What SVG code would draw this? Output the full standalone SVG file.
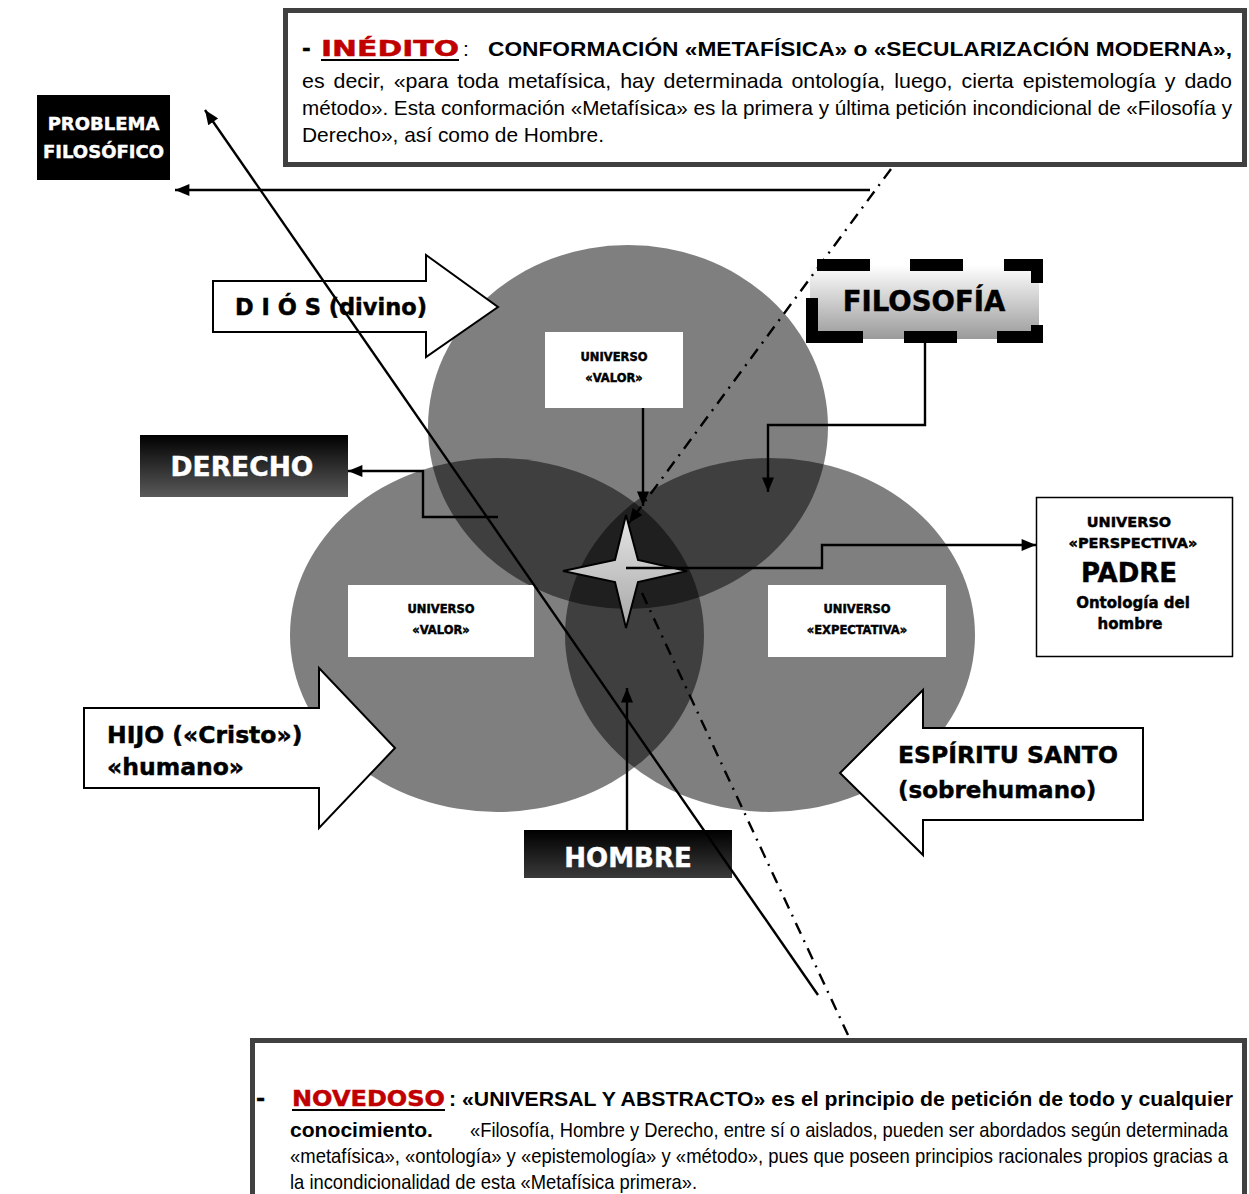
<svg xmlns="http://www.w3.org/2000/svg" width="1249" height="1194" viewBox="0 0 1249 1194">
  <defs>
    <style>
      .narrow { font-family: "Liberation Sans", Arial, sans-serif; fill: #000; font-size: 21px; }
      .heavy { font-family: "DejaVu Sans", "Liberation Sans", Arial, sans-serif; font-weight: bold; fill: #000; stroke: #000; stroke-width: 0.45; }
      .red { fill: #c00000; stroke: #c00000; }
      .wt { fill: #ffffff; stroke: #ffffff; }
      .conn { fill: none; stroke: #000; stroke-width: 2.4; }
      .dashdot { fill: none; stroke: #000; stroke-width: 2.4; stroke-dasharray: 12 7 2 7; }
      .panel { fill: #ffffff; stroke: #404040; stroke-width: 5; }
      .block { fill: #ffffff; stroke: #000; stroke-width: 2; }
    </style>
    <marker id="arrow" viewBox="0 0 12 10" refX="12" refY="5" markerWidth="15" markerHeight="12" markerUnits="userSpaceOnUse" orient="auto">
      <path d="M0,0 L12,5 L0,10 Z" fill="#000"/>
    </marker>
    <linearGradient id="darkFade" x1="0" y1="0" x2="0" y2="1">
      <stop offset="0" stop-color="#000000"/>
      <stop offset="1" stop-color="#5a5a5a"/>
    </linearGradient>
    <linearGradient id="darkFade2" x1="0" y1="0" x2="0" y2="1">
      <stop offset="0" stop-color="#000000"/>
      <stop offset="1" stop-color="#3a3a3a"/>
    </linearGradient>
    <linearGradient id="silver" x1="0" y1="0" x2="0" y2="1">
      <stop offset="0" stop-color="#ffffff"/>
      <stop offset="1" stop-color="#9a9a9a"/>
    </linearGradient>
    <linearGradient id="starFill" x1="0" y1="0" x2="0" y2="1">
      <stop offset="0" stop-color="#e6e6e6"/>
      <stop offset="1" stop-color="#a6a6a6"/>
    </linearGradient>
  </defs>

  <!-- overlapping universes -->
  <g id="universes" fill="#000" fill-opacity="0.5">
    <ellipse cx="628" cy="427" rx="200" ry="182"/>
    <ellipse cx="497" cy="635" rx="207" ry="177"/>
    <ellipse cx="770" cy="635" rx="205" ry="177"/>
  </g>

  <!-- top statement: justified lines -->
  <g id="inedito">
    <rect class="panel" x="285.5" y="10.5" width="959" height="154"/>
    <text class="heavy" x="302" y="56" font-size="21">-</text>
    <text class="heavy red" x="321" y="56" font-size="21" textLength="138" lengthAdjust="spacingAndGlyphs">INÉDITO</text>
    <rect x="321" y="59" width="138" height="2" fill="#000"/>
    <text class="narrow" x="463" y="56">:</text>
    <text class="narrow" x="488" y="56" font-size="21.5" font-weight="bold" textLength="744" lengthAdjust="spacingAndGlyphs">CONFORMACIÓN  «METAFÍSICA» o «SECULARIZACIÓN MODERNA»,</text>
    <text class="narrow" x="302" y="88" word-spacing="3" textLength="930" lengthAdjust="spacingAndGlyphs">es decir, «para toda metafísica,  hay determinada ontología, luego, cierta epistemología y dado</text>
    <text class="narrow" x="302" y="115" font-size="20.5" textLength="930" lengthAdjust="spacingAndGlyphs">método». Esta conformación «Metafísica» es la primera y última petición incondicional de «Filosofía y</text>
    <text class="narrow" x="302" y="142" font-size="20.5" textLength="302" lengthAdjust="spacingAndGlyphs">Derecho», así como de Hombre.</text>
  </g>

  <g id="problema">
    <rect x="37" y="95" width="133" height="85" fill="#000"/>
    <text class="heavy wt" x="103.5" y="130" font-size="18" text-anchor="middle">PROBLEMA</text>
    <text class="heavy wt" x="103.5" y="158" font-size="18" text-anchor="middle">FILOSÓFICO</text>
  </g>

  <g id="dios">
    <path class="block" d="M213,281 H426 V255 L498,307 L426,357 V332 H213 Z"/>
    <text class="heavy" x="235" y="315" font-size="22.5">D I Ó S (divino)</text>
  </g>

  <g id="filosofia">
    <rect x="810" y="265" width="229" height="74" fill="url(#silver)"/>
    <g fill="#000">
      <rect x="817" y="259" width="53" height="12"/>
      <rect x="910" y="259" width="53" height="12"/>
      <rect x="1004" y="259" width="39" height="12"/>
      <rect x="1031" y="259" width="12" height="24"/>
      <rect x="1031" y="325" width="12" height="18"/>
      <rect x="997" y="331" width="46" height="12"/>
      <rect x="904" y="331" width="53" height="12"/>
      <rect x="806" y="331" width="57" height="12"/>
      <rect x="806" y="298" width="12" height="45"/>
    </g>
    <text class="heavy" x="924" y="311" font-size="27.5" text-anchor="middle">FILOSOFÍA</text>
  </g>

  <g id="valor-top">
    <rect x="545" y="332" width="138" height="76" fill="#fff"/>
    <text class="heavy" x="614" y="361" font-size="11.5" text-anchor="middle">UNIVERSO</text>
    <text class="heavy" x="614" y="382" font-size="11.5" text-anchor="middle">«VALOR»</text>
  </g>

  <g id="derecho">
    <rect x="140" y="435" width="208" height="62" fill="url(#darkFade)"/>
    <text class="heavy wt" x="242" y="476" font-size="26.5" text-anchor="middle">DERECHO</text>
  </g>

  <g id="valor-left">
    <rect x="348" y="585" width="186" height="72" fill="#fff"/>
    <text class="heavy" x="441" y="613" font-size="11.5" text-anchor="middle">UNIVERSO</text>
    <text class="heavy" x="441" y="634" font-size="11.5" text-anchor="middle">«VALOR»</text>
  </g>

  <g id="expectativa">
    <rect x="768" y="585" width="178" height="72" fill="#fff"/>
    <text class="heavy" x="857" y="613" font-size="11.5" text-anchor="middle">UNIVERSO</text>
    <text class="heavy" x="857" y="634" font-size="11.5" text-anchor="middle">«EXPECTATIVA»</text>
  </g>

  <g id="padre">
    <rect x="1036.5" y="497.5" width="196" height="159" fill="#fff" stroke="#000" stroke-width="1.5"/>
    <text class="heavy" x="1129" y="527" font-size="14.5" text-anchor="middle">UNIVERSO</text>
    <text class="heavy" x="1133" y="548" font-size="14.5" text-anchor="middle">«PERSPECTIVA»</text>
    <text class="heavy" x="1129" y="582" font-size="26" text-anchor="middle">PADRE</text>
    <text class="heavy" x="1133" y="608" font-size="15" text-anchor="middle">Ontología del</text>
    <text class="heavy" x="1130" y="629" font-size="15" text-anchor="middle">hombre</text>
  </g>

  <g id="hijo">
    <path class="block" d="M84,708 H319 V668 L395,748 L319,828 V788 H84 Z"/>
    <text class="heavy" x="107" y="743" font-size="23.5">HIJO («Cristo»)</text>
    <text class="heavy" x="107" y="775" font-size="23.5">«humano»</text>
  </g>

  <g id="espiritu">
    <path class="block" d="M1143,728 H923 V690 L840,773 L923,855 V820 H1143 Z"/>
    <text class="heavy" x="898" y="763" font-size="23.5">ESPÍRITU SANTO</text>
    <text class="heavy" x="898" y="798" font-size="23">(sobrehumano)</text>
  </g>

  <g id="hombre">
    <rect x="524" y="830" width="208" height="48" fill="url(#darkFade2)"/>
    <text class="heavy wt" x="628" y="867" font-size="26" text-anchor="middle">HOMBRE</text>
  </g>

  <!-- connectors -->
  <g id="connectors">
    <line class="conn" x1="870" y1="190" x2="175" y2="190" marker-end="url(#arrow)"/>
    <line class="conn" x1="818" y1="995" x2="205" y2="110" marker-end="url(#arrow)"/>
    <path class="conn" d="M498,517 H423 V471 H348" marker-end="url(#arrow)"/>
    <line class="conn" x1="643" y1="408" x2="643" y2="506" marker-end="url(#arrow)"/>
    <line class="dashdot" x1="891" y1="169" x2="629" y2="523" marker-end="url(#arrow)"/>
    <path class="conn" d="M925,343 V425 H768 V492" marker-end="url(#arrow)"/>
    <line class="dashdot" x1="642" y1="593" x2="848" y2="1035"/>
    <line class="conn" x1="627" y1="830" x2="627" y2="688" marker-end="url(#arrow)"/>
  </g>

  <g id="star">
    <path d="M626,515 L638,560 L687,571 L638,582 L626,628 L615,582 L563,571 L615,560 Z" fill="url(#starFill)" stroke="#000" stroke-width="2"/>
  </g>
  <path class="conn" d="M626,568 H822 V545 H1036" marker-end="url(#arrow)"/>

  <!-- bottom statement: justified lines -->
  <g id="novedoso">
    <rect class="panel" x="252.5" y="1040.5" width="992" height="180"/>
    <text class="heavy" x="256" y="1106" font-size="22">-</text>
    <text class="heavy red" x="292" y="1106" font-size="21" textLength="153" lengthAdjust="spacingAndGlyphs">NOVEDOSO</text>
    <rect x="292" y="1109" width="153" height="2" fill="#000"/>
    <text class="narrow" x="449" y="1106" font-size="20.5" font-weight="bold" textLength="784" lengthAdjust="spacingAndGlyphs">: «UNIVERSAL  Y ABSTRACTO» es el principio de petición de todo y cualquier</text>
    <text class="narrow" x="290" y="1137" font-size="20.5" font-weight="bold" textLength="143" lengthAdjust="spacingAndGlyphs">conocimiento.</text>
    <text class="narrow" x="470" y="1137" font-size="18" textLength="758" lengthAdjust="spacingAndGlyphs">«Filosofía, Hombre y Derecho, entre sí o aislados, pueden ser abordados según determinada</text>
    <text class="narrow" x="290" y="1163" font-size="18" textLength="938" lengthAdjust="spacingAndGlyphs">«metafísica», «ontología» y «epistemología» y «método», pues que poseen principios racionales propios gracias a</text>
    <text class="narrow" x="290" y="1189" font-size="18" textLength="407" lengthAdjust="spacingAndGlyphs">la incondicionalidad de esta «Metafísica primera».</text>
  </g>
</svg>
